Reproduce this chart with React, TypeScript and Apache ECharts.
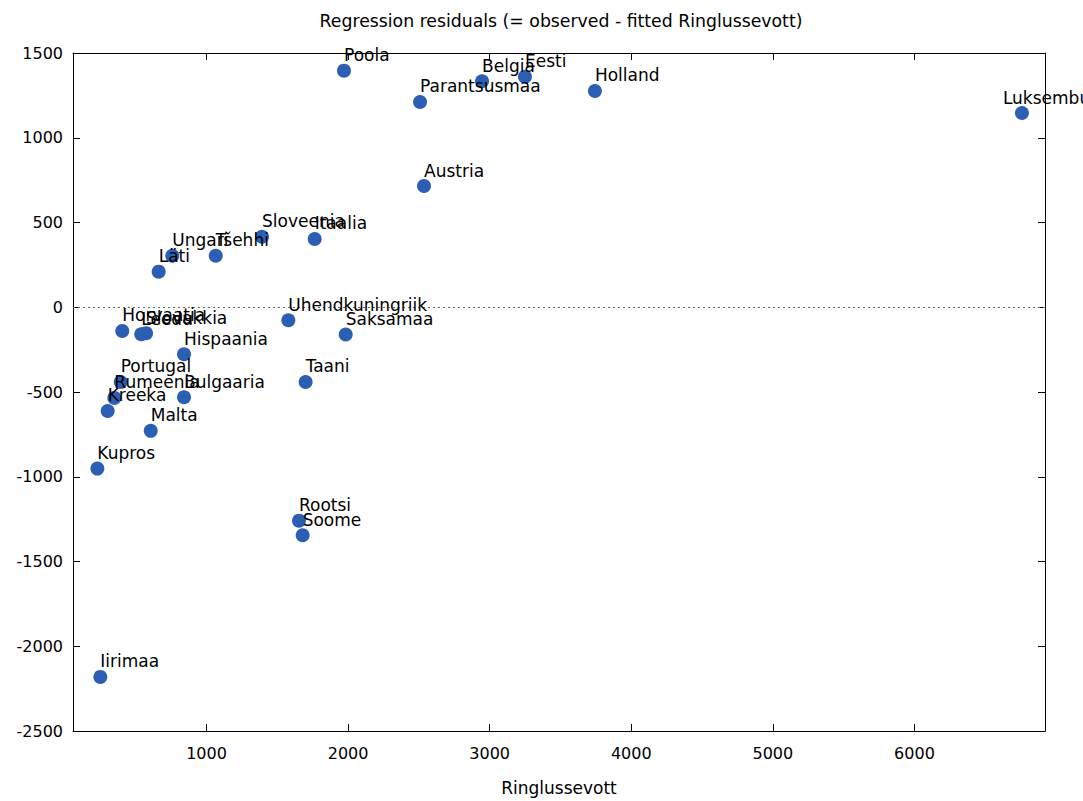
import React, { useEffect, useRef } from "react";
import * as echarts from "echarts";

// Country names (Estonian) and their values
const countries = [
  "Poola", "Belgia", "Eesti", "Holland", "Parantsusmaa", "Luksemburg", "Austria",
  "Sloveenia", "Itaalia", "Ungari", "Tšehhi", "Läti", "Uhendkuningriik", "Saksamaa",
  "Horvaatia", "Leedu", "Slovakkia", "Hispaania", "Taani", "Portugal", "Rumeenia",
  "Kreeka", "Bulgaaria", "Malta", "Kupros", "Rootsi", "Soome", "Iirimaa",
];

// Ringlussevott (x)
const recycled = [
  1971, 2946, 3249, 3743, 2508, 6759, 2536,
  1392, 1764, 758, 1065, 662, 1578, 1983,
  405, 539, 573, 841, 1700, 394, 349,
  302, 841, 606, 229, 1653, 1679, 250,
];

// Residuals: observed - fitted (y)
const residuals = [
  1396, 1333, 1360, 1276, 1211, 1146, 715,
  416, 403, 304, 304, 210, -77, -161,
  -140, -159, -153, -277, -441, -441, -535,
  -612, -531, -729, -952, -1259, -1345, -2181,
];

const xTicks = [1000, 2000, 3000, 4000, 5000, 6000];

const X_MIN = 57;
const X_MAX = 6922;
const Y_MIN = -2500;
const Y_MAX = 1500;

const FONT = "DejaVu Sans";
const DOT = "#2c5fb4";

export default function App() {
  const ref = useRef<HTMLDivElement>(null);

  useEffect(() => {
    if (!ref.current) return;
    const chart = echarts.init(ref.current, undefined, { renderer: "svg" });

    const data = countries.map((name, i) => ({ name, value: [recycled[i], residuals[i]] }));

    const axisLine = { show: true, onZero: false, lineStyle: { color: "#000", width: 1 } };
    const tick = { show: true, inside: true, length: 7, lineStyle: { color: "#000" } };
    const plain = (v: number) => String(v);

    chart.setOption({
      animation: false,
      backgroundColor: "#fff",
      textStyle: { fontFamily: FONT },
      title: {
        text: "Regression residuals (= observed - fitted Ringlussevott)",
        left: 556,
        textAlign: "center",
        top: 7,
        textStyle: { fontFamily: FONT, fontSize: 17.3, fontWeight: "normal", color: "#000" },
      },
      grid: { left: 73, right: 38, top: 53, bottom: 70 },
      xAxis: [
        {
          type: "value",
          min: X_MIN,
          max: X_MAX,
          name: "Ringlussevott",
          nameLocation: "middle",
          nameGap: 48,
          nameTextStyle: { fontFamily: FONT, fontSize: 17, color: "#000" },
          axisLine,
          axisTick: { ...tick, customValues: xTicks },
          axisLabel: {
            customValues: xTicks,
            formatter: plain,
            margin: 14,
            fontFamily: FONT,
            fontSize: 16,
            color: "#000",
          },
          splitLine: { show: false },
        },
        {
          type: "value",
          position: "top",
          min: X_MIN,
          max: X_MAX,
          axisLine,
          axisTick: { ...tick, customValues: xTicks },
          axisLabel: { show: false },
          splitLine: { show: false },
        },
      ],
      yAxis: [
        {
          type: "value",
          min: Y_MIN,
          max: Y_MAX,
          interval: 500,
          axisLine,
          axisTick: tick,
          axisLabel: { formatter: plain, margin: 10, fontFamily: FONT, fontSize: 16, color: "#000" },
          splitLine: { show: false },
        },
        {
          type: "value",
          position: "right",
          min: Y_MIN,
          max: Y_MAX,
          interval: 500,
          axisLine,
          axisTick: tick,
          axisLabel: { show: false },
          splitLine: { show: false },
        },
      ],
      series: [
        {
          type: "scatter",
          xAxisIndex: 0,
          yAxisIndex: 0,
          symbol: "circle",
          symbolSize: 14,
          itemStyle: { color: DOT, opacity: 1 },
          label: {
            show: true,
            position: "top",
            distance: 0,
            align: "left",
            formatter: "{b}",
            fontFamily: FONT,
            fontSize: 17,
            color: "#000",
          },
          // the rightmost label is pulled left a little
          labelLayout: (p: any) =>
            countries[p.dataIndex] === "Luksemburg" ? { dx: -19 } : {},
          data,
          markLine: {
            silent: true,
            symbol: "none",
            label: { show: false },
            lineStyle: { type: [2, 3], color: "#666", width: 1 },
            data: [{ yAxis: 0 }],
            z: 1,
          },
        },
      ],
    });

    return () => chart.dispose();
  }, []);

  return (
    <div
      ref={ref}
      style={{ position: "fixed", left: 0, top: 0, width: 1083, height: 801 }}
    />
  );
}
